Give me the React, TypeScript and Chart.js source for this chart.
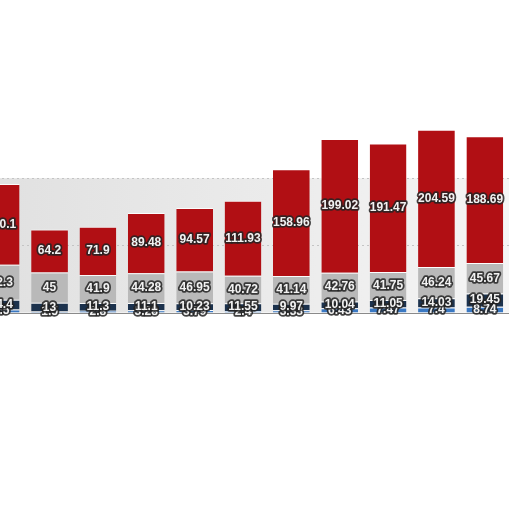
import { useEffect, useRef } from "react";
import { Chart, registerables } from "chart.js";

Chart.register(...registerables);

// stacked values, bottom to top
const categories = ["1", "2", "3", "4", "5", "6", "7", "8", "9", "10", "11"];
const blueValues = [4.5, 1.5, 2.8, 3.28, 3.79, 2.4, 3.33, 6.43, 7.47, 7.4, 8.74];
const navyValues = [14.4, 13, 11.3, 11.1, 10.23, 11.55, 9.97, 10.04, 11.05, 14.03, 19.45];
const greyValues = [52.3, 45, 41.9, 44.28, 46.95, 40.72, 41.14, 42.76, 41.75, 46.24, 45.67];
const redValues = [120.1, 64.2, 71.9, 89.48, 94.57, 111.93, 158.96, 199.02, 191.47, 204.59, 188.69];
const gridValues = [100, 200];

// draws the band, dotted grid and baseline behind the bars
const backdrop = {
  id: "backdrop",
  beforeDatasetsDraw(chart: any) {
    const { ctx, chartArea, scales } = chart;
    const y = scales.y;
    const top = y.getPixelForValue(200);
    const base = y.getPixelForValue(0);
    ctx.save();
    const g = ctx.createLinearGradient(chartArea.left, 0, chartArea.right, 0);
    g.addColorStop(0, "#e0e0e0");
    g.addColorStop(0.55, "#ebebeb");
    g.addColorStop(1, "#f5f5f5");
    ctx.fillStyle = g;
    ctx.fillRect(chartArea.left, top, chartArea.right - chartArea.left, base - top);
    ctx.strokeStyle = "#c4c4c4";
    ctx.lineWidth = 1;
    ctx.setLineDash([2, 3]);
    gridValues.forEach((v) => {
      const py = Math.round(y.getPixelForValue(v)) + 0.5;
      ctx.beginPath();
      ctx.moveTo(chartArea.left, py);
      ctx.lineTo(chartArea.right, py);
      ctx.stroke();
    });
    ctx.restore();
  },
  afterDatasetsDraw(chart: any) {
    const { ctx, chartArea, scales } = chart;
    const base = Math.round(scales.y.getPixelForValue(0)) + 0.5;
    ctx.save();
    ctx.strokeStyle = "#8a8a8a";
    ctx.lineWidth = 1;
    ctx.beginPath();
    ctx.moveTo(chartArea.left, base);
    ctx.lineTo(chartArea.right, base);
    ctx.stroke();
    ctx.restore();
  },
};

// outlined value labels in the middle of each segment
const segmentLabels = {
  id: "segmentLabels",
  afterDraw(chart: any) {
    const { ctx } = chart;
    ctx.save();
    ctx.font = "bold 12px 'Liberation Sans', Arial, sans-serif";
    ctx.textAlign = "center";
    ctx.textBaseline = "middle";
    ctx.lineJoin = "round";
    chart.data.datasets.forEach((ds: any, i: number) => {
      const meta = chart.getDatasetMeta(i);
      meta.data.forEach((bar: any, j: number) => {
        const cy = (bar.y + bar.base) / 2;
        const text = String(ds.data[j]);
        ctx.lineWidth = 3.5;
        ctx.strokeStyle = "rgba(35,35,35,0.85)";
        ctx.strokeText(text, bar.x, cy);
        ctx.fillStyle = "#f2f2f2";
        ctx.fillText(text, bar.x, cy);
      });
    });
    ctx.restore();
  },
};

export default function App() {
  const canvasRef = useRef<HTMLCanvasElement | null>(null);
  const chartRef = useRef<Chart | null>(null);

  useEffect(() => {
    if (!canvasRef.current) return;
    if (chartRef.current) chartRef.current.destroy();

    const seg = (label: string, data: number[], color: string) => ({
      label,
      data,
      backgroundColor: color,
      borderColor: "rgba(255,255,255,0.85)",
      borderWidth: { top: 1 },
      borderSkipped: false,
      categoryPercentage: 0.8,
      barPercentage: 0.95,
    });

    chartRef.current = new Chart(canvasRef.current, {
      type: "bar",
      data: {
        labels: categories,
        datasets: [
          seg("blue", blueValues, "#3a78c2"),
          seg("navy", navyValues, "#1c324d"),
          seg("grey", greyValues, "#b9b9b9"),
          seg("red", redValues, "#b10f14"),
        ],
      },
      options: {
        animation: false,
        responsive: true,
        maintainAspectRatio: false,
        layout: { padding: 0 },
        plugins: {
          legend: { display: false },
          tooltip: { enabled: false },
        },
        scales: {
          x: { stacked: true, display: false },
          y: { stacked: true, display: false, min: -20, max: 300 },
        },
      },
      plugins: [backdrop, segmentLabels],
    });

    return () => {
      if (chartRef.current) {
        chartRef.current.destroy();
        chartRef.current = null;
      }
    };
  }, []);

  return (
    <div style={{ position: "fixed", inset: 0, background: "#fff", overflow: "hidden" }}>
      <div style={{ position: "absolute", left: -23, top: 111, width: 532, height: 215 }}>
        <canvas ref={canvasRef} />
      </div>
    </div>
  );
}
